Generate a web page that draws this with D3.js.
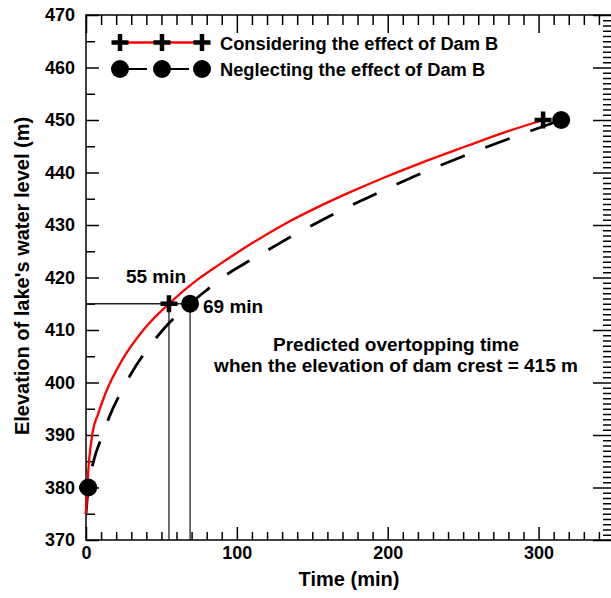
<!DOCTYPE html>
<html><head><meta charset="utf-8">
<script src="https://cdn.jsdelivr.net/npm/d3@7"></script>
<style>
html,body{margin:0;padding:0;background:#fff;}
svg{display:block;}
text{font-family:"Liberation Sans",Arial,Helvetica,sans-serif;font-weight:bold;fill:#000;}
</style></head>
<body>
<script>
// ---- data ----
const xMajorTicks = [0, 100, 200, 300];
const yMajorTicks = [370, 380, 390, 400, 410, 420, 430, 440, 450, 460, 470];
const seriesNames = ["Considering the effect of Dam B", "Neglecting the effect of Dam B"];
// Considering the effect of Dam B (red, solid)
const redTime = [0, 1, 4.4, 8, 13, 24, 38, 55, 73, 89, 111, 133, 155, 177, 199, 221, 252, 276, 303];
const redElev = [375, 381, 390.5, 394, 398, 404.3, 410, 415, 419.4, 422.6, 426.7, 430.4, 433.6, 436.5, 439.2, 441.7, 445, 447.5, 450];
const redMarkTime = [1, 55, 303];
const redMarkElev = [380, 415, 450];
// Neglecting the effect of Dam B (black, dashed)
const blkTime = [0, 1.5, 5, 11, 15.5, 24, 31, 43, 54, 69, 80, 93, 109, 124, 138, 155, 169, 186, 201, 217, 232, 250, 265, 282, 315];
const blkElev = [375, 380, 385, 390, 393.5, 398.6, 402.2, 407.2, 411, 415, 417.6, 420.5, 423.3, 425.8, 428.1, 430.7, 432.8, 435.1, 437.1, 439.2, 441, 443.1, 444.8, 446.6, 450];
const blkMarkTime = [1.5, 69, 315];
const blkMarkElev = [380, 415, 450];
// overtopping annotation
const crestElev = 415;
const overtopTimes = [55, 69];
const overtopLabels = ["55 min", "69 min"];
const noteLines = ["Predicted overtopping time", "when the elevation of dam crest = 415 m"];

// ---- layout ----
const W = 611, H = 598;
const L = 86, R = 614, T = 15, B = 540;
const x = d3.scaleLinear().domain([0, 350]).range([L, R]);
const y = d3.scaleLinear().domain([370, 470]).range([B, T]);

const svg = d3.select("body").append("svg").attr("width", W).attr("height", H);

// axes
function styleAxis(g){ g.select(".domain").remove(); g.selectAll("line").attr("stroke","#000").attr("stroke-width",1.5); g.selectAll("text").attr("font-family",null).attr("font-size",null); }
const xMinor = d3.range(0, 351, 10).filter(v => v % 100 !== 0);
const yMinorL = d3.range(375, 470, 10);
const yMinorR = d3.range(370, 471, 1).filter(v => v % 10 !== 0);

svg.append("g").attr("transform",`translate(0,${B})`)
  .call(d3.axisBottom(x).tickValues(xMajorTicks).tickSize(-13).tickPadding(6).tickFormat(d3.format("d")))
  .call(styleAxis).selectAll("text").style("font-size","18px");
svg.append("g").attr("transform",`translate(0,${B})`)
  .call(d3.axisBottom(x).tickValues(xMinor).tickSize(-8).tickFormat("")).call(styleAxis);
svg.append("g").attr("transform",`translate(0,${T})`)
  .call(d3.axisTop(x).tickValues(xMajorTicks).tickSize(-18).tickFormat("")).call(styleAxis);
svg.append("g").attr("transform",`translate(0,${T})`)
  .call(d3.axisTop(x).tickValues(xMinor).tickSize(-10).tickFormat("")).call(styleAxis);

svg.append("g").attr("transform",`translate(${L},0)`)
  .call(d3.axisLeft(y).tickValues(yMajorTicks).tickSize(-13).tickPadding(11).tickFormat(d3.format("d")))
  .call(styleAxis).selectAll("text").style("font-size","18px");
svg.append("g").attr("transform",`translate(${L},0)`)
  .call(d3.axisLeft(y).tickValues(yMinorL).tickSize(-9).tickFormat("")).call(styleAxis);
svg.append("g").attr("transform",`translate(${R},0)`)
  .call(d3.axisRight(y).tickValues(yMajorTicks).tickSize(-21).tickFormat("")).call(styleAxis);
svg.append("g").attr("transform",`translate(${R},0)`)
  .call(d3.axisRight(y).tickValues(yMinorR).tickSize(-11).tickFormat("")).call(styleAxis);

// frame
svg.append("rect").attr("x",L).attr("y",T).attr("width",R-L).attr("height",B-T)
  .attr("fill","none").attr("stroke","#000").attr("stroke-width",1.5);

// axis titles
svg.append("text").attr("x",349).attr("y",586).attr("text-anchor","middle").style("font-size","20px").text("Time (min)");
svg.append("text").attr("transform","translate(29,276) rotate(-90)").attr("text-anchor","middle").style("font-size","20px").text("Elevation of lake's water level (m)");

// reference lines
const ref = svg.append("g").attr("stroke","#222").attr("stroke-width",1.3).attr("fill","none");
ref.append("line").attr("x1",x(0)).attr("x2",x(overtopTimes[1])).attr("y1",y(crestElev)).attr("y2",y(crestElev));
overtopTimes.forEach(t => ref.append("line").attr("x1",x(t)).attr("x2",x(t)).attr("y1",y(crestElev)).attr("y2",y(370)));

// curves
const line = d3.line().x(d => x(d[0])).y(d => y(d[1])).curve(d3.curveMonotoneX);
svg.append("path").datum(blkTime.map((t,i)=>[t,blkElev[i]])).attr("d",line)
  .attr("fill","none").attr("stroke","#000").attr("stroke-width",2.8).attr("stroke-dasharray","26,22");
svg.append("path").datum(redTime.map((t,i)=>[t,redElev[i]])).attr("d",line)
  .attr("fill","none").attr("stroke","#f00").attr("stroke-width",2.3);

// markers
function plus(g, cx, cy){
  g.append("path").attr("d",`M${cx-8.5},${cy}H${cx+8.5}M${cx},${cy-8.5}V${cy+8.5}`)
   .attr("stroke","#000").attr("stroke-width",4.5).attr("fill","none");
}
const mk = svg.append("g");
redMarkTime.forEach((t,i)=>plus(mk, x(t), y(redMarkElev[i])));
blkMarkTime.forEach((t,i)=>mk.append("circle").attr("cx",x(t)).attr("cy",y(blkMarkElev[i])).attr("r",9).attr("fill","#000"));

// annotation text
svg.append("text").attr("x",156).attr("y",283).attr("text-anchor","middle").style("font-size","19px").text(overtopLabels[0]);
svg.append("text").attr("x",203).attr("y",313).style("font-size","19px").text(overtopLabels[1]);
noteLines.forEach((s,i)=>svg.append("text").attr("x",396).attr("y",351+i*20.5).attr("text-anchor","middle").style("font-size","19px").text(s));

// legend
const lg = svg.append("g");
const lgX = [120, 162, 202];
lg.append("line").attr("x1",lgX[0]).attr("x2",lgX[2]).attr("y1",42.5).attr("y2",42.5).attr("stroke","#f00").attr("stroke-width",2.5);
lgX.forEach(cx=>plus(lg, cx, 42.5));
lg.append("line").attr("x1",lgX[0]).attr("x2",lgX[2]).attr("y1",69).attr("y2",69).attr("stroke","#000").attr("stroke-width",2.2).attr("stroke-dasharray","27,15");
lgX.forEach(cx=>lg.append("circle").attr("cx",cx).attr("cy",69).attr("r",9).attr("fill","#000"));
lg.append("text").attr("x",220).attr("y",49.5).style("font-size","18.3px").text(seriesNames[0]);
lg.append("text").attr("x",220).attr("y",76).style("font-size","18.3px").text(seriesNames[1]);
</script>
</body></html>
